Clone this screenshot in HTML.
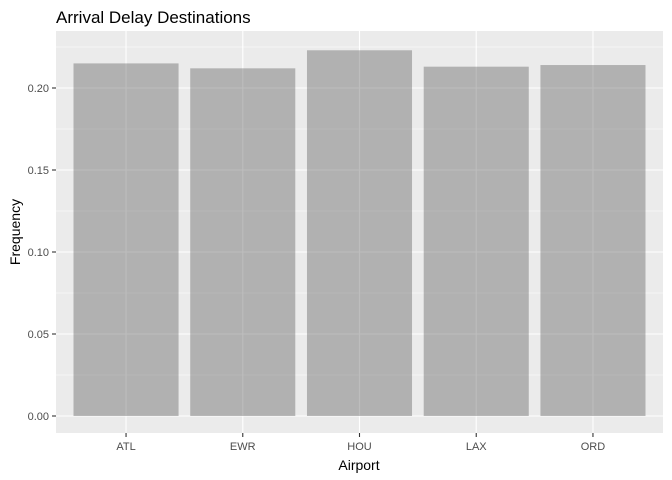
<!DOCTYPE html>
<html><head><meta charset="utf-8"><style>
body{margin:0;background:#fff;}
svg{font-family:"Liberation Sans",sans-serif;display:block;}
</style></head><body>
<svg width="672" height="480">
<text x="56" y="23" font-size="17" fill="#000">Arrival Delay Destinations</text>
<rect x="56" y="31" width="607" height="402" fill="#ebebeb"/>
<g id="grid"></g><g id="bars"></g><g id="axes"></g>
<text x="359" y="470" font-size="14" text-anchor="middle" fill="#000">Airport</text>
<text transform="translate(20,232) rotate(-90)" font-size="14" text-anchor="middle" fill="#000">Frequency</text>
</svg>
<script>
const categories=["ATL","EWR","HOU","LAX","ORD"];
const values=[0.215,0.212,0.223,0.213,0.214];
const yTicks=[0,0.05,0.10,0.15,0.20];
const yLabels=["0.00","0.05","0.10","0.15","0.20"];
const NS="http://www.w3.org/2000/svg";
const pLeft=56,pRight=663,pTop=31,pBottom=433;
const step=(pRight-pLeft)/5.2;
const x=i=>pLeft+step*(0.6+i);
const y=v=>416-v*1640;
function mk(t,a,p){const e=document.createElementNS(NS,t);for(const k in a)e.setAttribute(k,a[k]);p.appendChild(e);return e;}
const g=document.getElementById('grid'),b=document.getElementById('bars'),ax=document.getElementById('axes');
for(let v=0.025;v<0.23;v+=0.05){const l=mk('line',{x1:pLeft,x2:pRight,y1:y(v),y2:y(v),stroke:'#fff','stroke-width':0.5},g);

}
yTicks.forEach((v,i)=>{const l=mk('line',{x1:pLeft,x2:pRight,y1:y(v),y2:y(v),stroke:'#fff','stroke-width':1.1},g);


const t=mk('line',{x1:pLeft-4,x2:pLeft,y1:y(v),y2:y(v),stroke:'#333','stroke-width':1.1},ax);


const tx=mk('text',{x:pLeft-7,y:y(v)+4,'font-size':11,'text-anchor':'end',fill:'#4d4d4d'},ax);tx.textContent=yLabels[i];

});
categories.forEach((c,i)=>{const l=mk('line',{x1:x(i),x2:x(i),y1:pTop,y2:pBottom,stroke:'#fff','stroke-width':1.1},g);


const r=mk('rect',{x:x(i)-step*0.45,width:step*0.9,y:y(values[i]),height:y(0)-y(values[i]),fill:'#595959','fill-opacity':0.4},b);


const t=mk('line',{x1:x(i),x2:x(i),y1:pBottom,y2:pBottom+4,stroke:'#333','stroke-width':1.1},ax);


const tx=mk('text',{x:x(i),y:pBottom+17,'font-size':11,'text-anchor':'middle',fill:'#4d4d4d'},ax);tx.textContent=c;

});
</script>
</body></html>
